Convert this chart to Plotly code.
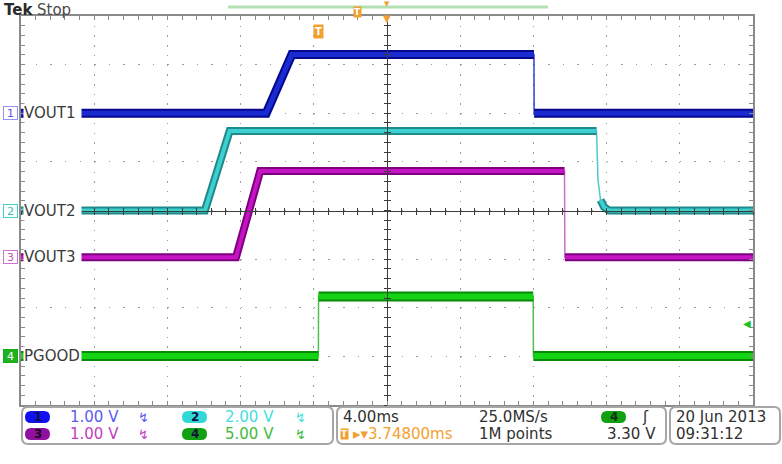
import plotly.graph_objects as go

ch_names = ["VOUT1", "VOUT2", "VOUT3", "PGOOD"]
ch_numbers = ["1", "2", "3", "4"]
ch_scale = [1.0, 2.0, 1.0, 5.0]          # V/div
ch_offset = [2.0, 0.0, -0.96, -2.99]     # ground marker position (div)

# time in ms relative to screen centre, value in volts
vout1_t = [-20, -6.6, -5.2, 8.03, 8.04, 20]
vout1_v = [0.0, 0.0, 1.21, 1.21, 0.0, 0.0]
vout2_t = [-20, -9.95, -8.6, 11.45, 11.53, 11.67, 11.86, 12.13, 20]
vout2_v = [0.0, 0.0, 3.27, 3.27, 1.25, 0.43, 0.14, 0.0, 0.0]
vout3_t = [-20, -8.25, -6.93, 9.70, 9.72, 20]
vout3_v = [0.0, 0.0, 1.77, 1.77, 0.0, 0.0]
pgood_t = [-20, -3.75, -3.74, 7.99, 8.0, 20]
pgood_v = [0.0, 0.0, 6.1, 6.1, 0.0, 0.0]

trigger_time_ms = -3.748
trigger_level_v = 3.30
trigger_channel = 3

readout_scales = ["1.00 V", "2.00 V", "1.00 V", "5.00 V"]
timebase = "4.00ms"
sample_rate = "25.0MS/s"
record_len = "1M points"
trig_pos_text = "\u25b8\u25be3.74800ms"
trig_level_text = "3.30 V"
date_text = "20 Jun 2013"
time_text = "09:31:12"

waves_t = [vout1_t, vout2_t, vout3_t, pgood_t]
waves_v = [vout1_v, vout2_v, vout3_v, pgood_v]

# ---------------- Styles ----------------
core_col = ["#1a2cd0", "#3ed0d0", "#c414c4", "#14d214"]
edge_col = ["#06068e", "#1e8a8a", "#7e007e", "#078a07"]
thin_col = ["#3040d0", "#50c8c8", "#c870c8", "#50c050"]
band_w = [9, 8, 8, 10]
core_w = [5, 4, 4, 6]
mark_border = ["#9090ff", "#40d0d0", "#d070d0", "#10b010"]
mark_text = ["#5858f0", "#30c0c0", "#c050c0", "#ffffff"]
mark_fill = ["#ffffff", "#ffffff", "#ffffff", "#20b020"]
pill_fill = ["#1010f0", "#30d8d8", "#9010a0", "#10a010"]
read_col = ["#5a5af4", "#44dede", "#c040c0", "#40bc40"]
ORANGE = "#f2a030"
FONT = "DejaVu Sans"

L, T, W, H = 21, 16, 732, 389


def px(x):
    return (x - L) / W


def py(y):
    return (T + H - y) / H


def to_div(v, ch):
    return [ch_offset[ch] + val / ch_scale[ch] for val in v]


def band_path(t, d):
    xs, ys = [t[0]], [d[0]]
    for i in range(1, len(t)):
        steep = abs(d[i] - d[i - 1]) / (t[i] - t[i - 1]) > 2.5
        if steep:
            xs.append(None)
            ys.append(None)
        xs.append(t[i])
        ys.append(d[i])
    return xs, ys


fig = go.Figure()

for ch in range(4):
    d = to_div(waves_v[ch], ch)
    t = waves_t[ch]
    fig.add_trace(go.Scatter(x=t, y=d, mode="lines",
                             line=dict(color=thin_col[ch], width=1.5),
                             hoverinfo="skip", showlegend=False))
    bx, by = band_path(t, d)
    fig.add_trace(go.Scatter(x=bx, y=by, mode="lines",
                             line=dict(color=edge_col[ch], width=band_w[ch]),
                             hoverinfo="skip", showlegend=False))
    fig.add_trace(go.Scatter(x=bx, y=by, mode="lines",
                             line=dict(color=core_col[ch], width=core_w[ch]),
                             hoverinfo="skip", showlegend=False))

# dummy traces so the centre-cross axes are drawn
for k in ("2", "3"):
    fig.add_trace(go.Scatter(x=[], y=[], xaxis="x" + k, yaxis="y" + k,
                             showlegend=False, hoverinfo="skip"))

GRID = "#9a9a9a"
BORDER = "#8a8a8a"
CROSS = "#3c3c3c"

fig.update_layout(
    width=782, height=464,
    margin=dict(l=L, r=782 - L - W, t=T, b=464 - T - H, autoexpand=False),
    paper_bgcolor="white", plot_bgcolor="white",
    showlegend=False,
    font=dict(family=FONT),
    xaxis=dict(range=[-20, 20], dtick=4, showgrid=True, gridcolor=GRID,
               gridwidth=1, griddash="1.5px,8.22px", zeroline=False,
               showline=True, linecolor=BORDER, linewidth=2, mirror="ticks",
               ticks="inside", ticklen=4, tickcolor=BORDER, automargin=False,
               minor=dict(dtick=0.8, ticks="inside", ticklen=4, tickcolor=BORDER),
               showticklabels=False, fixedrange=True),
    yaxis=dict(range=[-4, 4], dtick=1, showgrid=True, gridcolor=GRID,
               gridwidth=1, griddash="1.5px,13.14px", zeroline=False,
               showline=True, linecolor=BORDER, linewidth=2, mirror="ticks",
               ticks="inside", ticklen=4, tickcolor=BORDER, automargin=False,
               minor=dict(dtick=0.2, ticks="inside", ticklen=4, tickcolor=BORDER),
               showticklabels=False, fixedrange=True),
)

for k, side in (("2", "inside"), ("3", "outside")):
    fig.update_layout(**{
        "xaxis" + k: dict(overlaying="x", range=[-20, 20], anchor="free", position=0.5,
                          showline=True, linecolor=CROSS, linewidth=1, automargin=False,
                          ticks=side, ticklen=3, tickcolor=CROSS, dtick=4,
                          minor=dict(dtick=0.8, ticks=side, ticklen=3, tickcolor=CROSS),
                          showgrid=False, zeroline=False, showticklabels=False),
        "yaxis" + k: dict(overlaying="y", range=[-4, 4], anchor="free", position=0.5,
                          showline=True, linecolor=CROSS, linewidth=1, automargin=False,
                          ticks=side, ticklen=3, tickcolor=CROSS, dtick=1,
                          minor=dict(dtick=0.2, ticks=side, ticklen=3, tickcolor=CROSS),
                          showgrid=False, zeroline=False, showticklabels=False),
    })

shapes = []
ann = []


def rrect(x0, y0, x1, y1, r):
    X, Y = px, py
    return (f"M {X(x0 + r)},{Y(y0)} L {X(x1 - r)},{Y(y0)} Q {X(x1)},{Y(y0)} {X(x1)},{Y(y0 + r)} "
            f"L {X(x1)},{Y(y1 - r)} Q {X(x1)},{Y(y1)} {X(x1 - r)},{Y(y1)} L {X(x0 + r)},{Y(y1)} "
            f"Q {X(x0)},{Y(y1)} {X(x0)},{Y(y1 - r)} L {X(x0)},{Y(y0 + r)} Q {X(x0)},{Y(y0)} {X(x0 + r)},{Y(y0)} Z")


def text(x, y, s, color="#303030", size=15, anchor="left", bold=False, **kw):
    if bold:
        s = "<b>" + s + "</b>"
    ann.append(dict(xref="paper", yref="paper", x=px(x), y=py(y), text=s,
                    showarrow=False, xanchor=anchor, yanchor="middle",
                    font=dict(family=FONT, size=size, color=color), **kw))


# ---- top bar ----
text(2, 10, "Tek", "#2a2a2a", 15, bold=True)
text(35, 10, "Stop", "#4a4a4a", 15)
shapes.append(dict(type="line", xref="paper", yref="paper", x0=px(228), x1=px(548),
                   y0=py(7), y1=py(7), line=dict(color="#b2e0b2", width=3)))
text(357, 12, "T", "white", 9, anchor="center", bold=True, bgcolor=ORANGE, borderpad=0)
ann.append(dict(xref="x", yref="paper", x=0, y=py(4), text="\u25bc", showarrow=False,
                font=dict(size=7, color=ORANGE), xanchor="center", yanchor="middle"))
ann.append(dict(xref="x", yref="paper", x=0, y=py(19), text="\u25bc", showarrow=False,
                font=dict(size=10, color=ORANGE), xanchor="center", yanchor="middle"))
ann.append(dict(xref="x", yref="paper", x=trigger_time_ms, y=py(31), text="<b>T</b>",
                showarrow=False, font=dict(size=10, color="white"), bgcolor=ORANGE,
                borderpad=1, xanchor="center", yanchor="middle"))

# ---- channel markers and labels ----
for ch in range(4):
    ann.append(dict(xref="paper", yref="y", x=px(3), y=ch_offset[ch], text=ch_numbers[ch],
                    showarrow=False, xanchor="left", yanchor="middle", width=13, height=12,
                    font=dict(family=FONT, size=11, color=mark_text[ch]),
                    bgcolor=mark_fill[ch], bordercolor=mark_border[ch], borderwidth=1, borderpad=0))
    ann.append(dict(xref="paper", yref="y", x=px(23), y=ch_offset[ch], text=ch_names[ch],
                    showarrow=False, xanchor="left", yanchor="middle", width=57, align="left",
                    font=dict(family=FONT, size=15, color="#3a3a3a"),
                    bgcolor="white", borderpad=0))

# trigger level arrow on the right
ann.append(dict(xref="x", yref="y", x=19.65,
                y=ch_offset[trigger_channel] + trigger_level_v / ch_scale[trigger_channel],
                text="\u25c0", showarrow=False, xanchor="center", yanchor="middle",
                font=dict(size=10, color="#20c020")))

# ---- bottom readout boxes ----
for (x0, x1) in ((22, 333), (337, 666), (670, 780)):
    shapes.append(dict(type="path", xref="paper", yref="paper", path=rrect(x0, 407, x1, 444, 6),
                       fillcolor="white", line=dict(color="#a6a6a6", width=2)))

ROW1, ROW2 = 417, 434
pill_pos = [(25, ROW1), (182, ROW1), (25, ROW2), (182, ROW2)]
read_x = [68, 223, 68, 223]
sym_x = [143, 300, 143, 300]
for ch in range(4):
    x0, yc = pill_pos[ch]
    shapes.append(dict(type="path", xref="paper", yref="paper",
                       path=rrect(x0, yc - 6, x0 + 25, yc + 6, 6),
                       fillcolor=pill_fill[ch], line=dict(width=0)))
    text(x0 + 12.5, yc, ch_numbers[ch], "#101040" if ch != 2 else "#200020", 12,
         anchor="center", bold=True)
    text(read_x[ch], yc, readout_scales[ch], read_col[ch], 15)
    text(sym_x[ch], yc, "\u21af", read_col[ch], 13, anchor="center")

text(341, ROW1, timebase, "#303030", 15)
text(340, ROW2, "T", "white", 9, bold=True, bgcolor=ORANGE, borderpad=0)
text(351, ROW2, trig_pos_text, ORANGE, 15)
text(477, ROW1, sample_rate, "#303030", 15)
text(477, ROW2, record_len, "#303030", 15)
shapes.append(dict(type="path", xref="paper", yref="paper",
                   path=rrect(601, ROW1 - 6, 626, ROW1 + 6, 6),
                   fillcolor=pill_fill[3], line=dict(width=0)))
text(613.5, ROW1, ch_numbers[3], "#103010", 12, anchor="center", bold=True)
text(645, ROW1, "\u0283", "#303030", 15, anchor="center")
text(658, ROW2, trig_level_text, "#303030", 15, anchor="right")
text(674, ROW1, date_text, "#303030", 15)
text(674, ROW2, time_text, "#303030", 15)

fig.update_layout(shapes=shapes, annotations=ann)

fig.write_html("out.html", config={"displayModeBar": False},
               post_script="document.body.style.margin='0';"
               "document.body.style.padding='0';")
